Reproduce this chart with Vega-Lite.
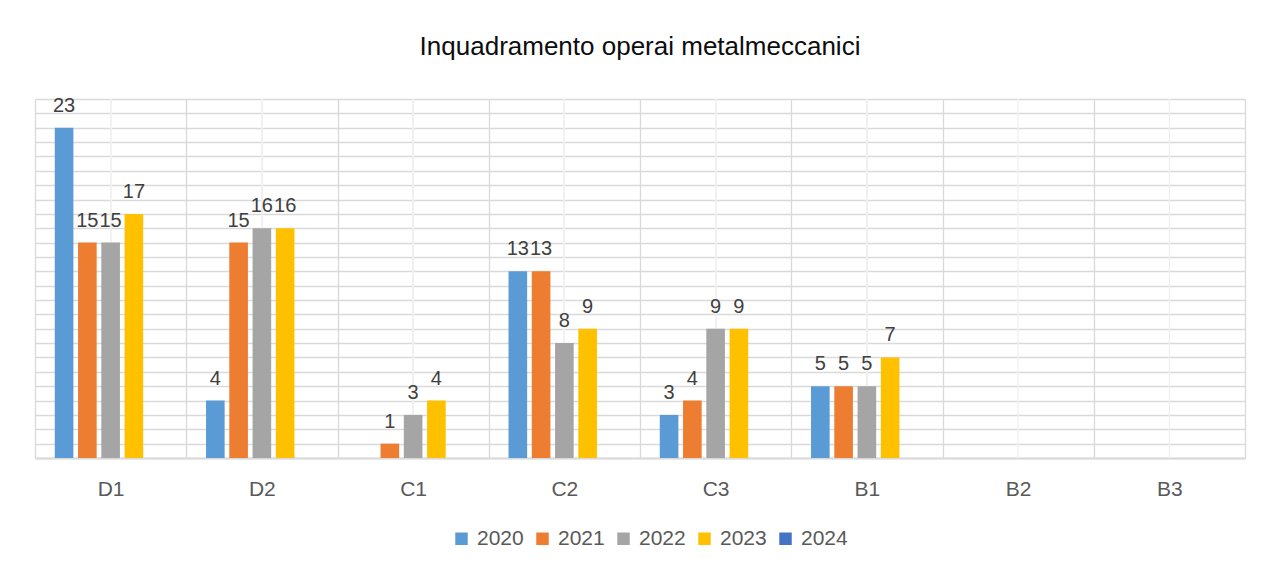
{
  "$schema": "https://vega.github.io/schema/vega-lite/v6.json",
  "width": 1210,
  "height": 359,
  "autosize": "none",
  "padding": {"left": 35, "top": 99, "right": 26, "bottom": 113},
  "background": "#ffffff",
  "title": {
    "text": "Inquadramento operai metalmeccanici",
    "font": "Liberation Sans",
    "fontSize": 26,
    "fontWeight": "normal",
    "color": "#0d0d0d",
    "anchor": "middle",
    "baseline": "alphabetic",
    "offset": 15
  },
  "config": {
    "view": {"stroke": null},
    "font": "Liberation Sans",
    "axisY": {"labelOverlap": false, "labelBound": false}
  },
  "data": {
    "values": [
      {"cat": "D1", "year": "2020", "value": 23},
      {"cat": "D1", "year": "2021", "value": 15},
      {"cat": "D1", "year": "2022", "value": 15},
      {"cat": "D1", "year": "2023", "value": 17},
      {"cat": "D1", "year": "2024", "value": null},
      {"cat": "D2", "year": "2020", "value": 4},
      {"cat": "D2", "year": "2021", "value": 15},
      {"cat": "D2", "year": "2022", "value": 16},
      {"cat": "D2", "year": "2023", "value": 16},
      {"cat": "D2", "year": "2024", "value": null},
      {"cat": "C1", "year": "2020", "value": null},
      {"cat": "C1", "year": "2021", "value": 1},
      {"cat": "C1", "year": "2022", "value": 3},
      {"cat": "C1", "year": "2023", "value": 4},
      {"cat": "C1", "year": "2024", "value": null},
      {"cat": "C2", "year": "2020", "value": 13},
      {"cat": "C2", "year": "2021", "value": 13},
      {"cat": "C2", "year": "2022", "value": 8},
      {"cat": "C2", "year": "2023", "value": 9},
      {"cat": "C2", "year": "2024", "value": null},
      {"cat": "C3", "year": "2020", "value": 3},
      {"cat": "C3", "year": "2021", "value": 4},
      {"cat": "C3", "year": "2022", "value": 9},
      {"cat": "C3", "year": "2023", "value": 9},
      {"cat": "C3", "year": "2024", "value": null},
      {"cat": "B1", "year": "2020", "value": 5},
      {"cat": "B1", "year": "2021", "value": 5},
      {"cat": "B1", "year": "2022", "value": 5},
      {"cat": "B1", "year": "2023", "value": 7},
      {"cat": "B1", "year": "2024", "value": null},
      {"cat": "B2", "year": "2020", "value": null},
      {"cat": "B3", "year": "2020", "value": null}
    ]
  },
  "encoding": {
    "x": {
      "field": "cat",
      "type": "nominal",
      "sort": null,
      "scale": {"domain": ["D1", "D2", "C1", "C2", "C3", "B1", "B2", "B3"], "paddingInner": 0, "paddingOuter": 0},
      "axis": {
        "title": null,
        "grid": true,
        "gridColor": "#d9d9d9",
        "gridWidth": 1.3,
        "tickBand": "extent",
        "ticks": false,
        "tickSize": 0,
        "domain": true,
        "domainColor": "#d9d9d9",
        "domainWidth": 2,
        "labelAngle": 0,
        "labelFont": "Liberation Sans",
        "labelFontSize": 21,
        "labelColor": "#595959",
        "labelBaseline": "alphabetic",
        "labelPadding": 37
      }
    }
  },
  "layer": [
    {
      "mark": {"type": "rule", "color": "#f0f0f0", "strokeWidth": 1.3},
      "encoding": {}
    },
    {
      "mark": {"type": "bar"},
      "encoding": {
        "xOffset": {
          "field": "year",
          "type": "nominal",
          "scale": {"domain": ["2020", "2021", "2022", "2023", "2024"], "paddingInner": 0.2, "paddingOuter": 0.85}
        },
        "y": {
          "field": "value",
          "type": "quantitative",
          "scale": {"domain": [0, 25], "nice": false},
          "axis": {
            "title": null,
            "values": [0,1,2,3,4,5,6,7,8,9,10,11,12,13,14,15,16,17,18,19,20,21,22,23,24,25],
            "grid": true,
            "gridColor": "#d9d9d9",
            "gridWidth": 1.3,
            "labels": false,
            "labelOverlap": false,
            "ticks": false,
            "domain": false
          }
        },
        "color": {
          "field": "year",
          "type": "nominal",
          "scale": {
            "domain": ["2020", "2021", "2022", "2023", "2024"],
            "range": ["#5b9bd5", "#ed7d31", "#a5a5a5", "#ffc000", "#4472c4"]
          },
          "legend": {
            "title": null,
            "orient": "none",
            "direction": "horizontal",
            "legendX": 416,
            "legendY": 429,
            "symbolType": "square",
            "symbolSize": 156,
            "symbolStrokeWidth": 0,
            "symbolOpacity": 1,
            "labelFont": "Liberation Sans",
            "labelFontSize": 21,
            "labelColor": "#595959",
            "labelOffset": 5,
            "columnPadding": 8
          }
        }
      }
    },
    {
      "mark": {"type": "text", "font": "Liberation Sans", "fontSize": 20, "color": "#404040", "baseline": "alphabetic", "dy": -16},
      "encoding": {
        "xOffset": {"field": "year", "type": "nominal"},
        "y": {
          "field": "value",
          "type": "quantitative",
          "axis": {
            "title": null,
            "values": [0,1,2,3,4,5,6,7,8,9,10,11,12,13,14,15,16,17,18,19,20,21,22,23,24,25],
            "grid": true,
            "gridColor": "#d9d9d9",
            "gridWidth": 1.3,
            "labels": false,
            "labelOverlap": false,
            "ticks": false,
            "domain": false
          }
        },
        "text": {"field": "value", "type": "quantitative"}
      }
    }
  ]
}
